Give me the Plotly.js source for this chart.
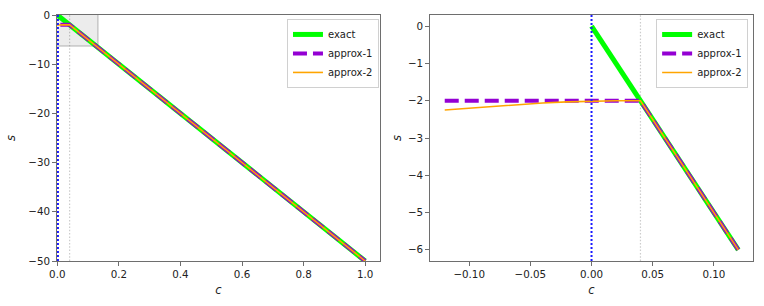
<!DOCTYPE html>
<html>
<head>
<meta charset="utf-8">
<script src="https://cdn.plot.ly/plotly-3.0.1.min.js"></script>
<style>html,body{margin:0;padding:0;background:#fff;}#chart{width:764px;height:306px;}</style>
</head>
<body>
<div id="chart"></div>
<script>
// ---- data ----
const seriesNames = ["exact", "approx-1", "approx-2"];
const cExact = [0, 0.04, 0.12, 1.0];
const sExact = [0, -2, -6, -50];
const cApprox = [-0.12, -0.10, -0.08, -0.06, -0.04, -0.02, 0.0, 0.02, 0.04, 0.12, 1.0];
const sApprox1 = [-2.0, -2.0, -2.0, -2.0, -2.0, -2.0, -2.0, -2.0, -2.0, -6.0, -50.0];
const sApprox2 = [-2.25, -2.20, -2.15, -2.10, -2.06, -2.03, -2.01, -2.00, -2.00, -6.0, -50.0];
const zoomMaxC = 0.12;               // right panel shows data up to this c
const splitC = 0.04;                 // grey dotted reference line
const leftXTicks = [0, 0.2, 0.4, 0.6, 0.8, 1.0];
const leftYTicks = [0, -10, -20, -30, -40, -50];
const rightXTicks = [-0.10, -0.05, 0.0, 0.05, 0.10];
const rightYTicks = [0, -1, -2, -3, -4, -5, -6];

function upTo(xs, ys, xmax) {
  const X = [], Y = [];
  for (let i = 0; i < xs.length; i++) if (xs[i] <= xmax + 1e-12) { X.push(xs[i]); Y.push(ys[i]); }
  return [X, Y];
}

const styles = [
  {color: "#00ff00", width: 5, dash: "solid"},
  {color: "#9400d3", width: 4, dash: "14px,6px"},
  {color: "#ffa500", width: 1.6, dash: "solid"}
];
const sets = [[cExact, sExact], [cApprox, sApprox1], [cApprox, sApprox2]];

const traces = [];
sets.forEach((d, i) => {
  traces.push({x: d[0], y: d[1], type: "scatter", mode: "lines", name: seriesNames[i],
    line: styles[i], xaxis: "x", yaxis: "y", legend: "legend"});
});
sets.forEach((d, i) => {
  const [X, Y] = upTo(d[0], d[1], zoomMaxC);
  traces.push({x: X, y: Y, type: "scatter", mode: "lines", name: seriesNames[i],
    line: styles[i], xaxis: "x2", yaxis: "y2", legend: "legend2"});
});

const font = {family: "DejaVu Sans, sans-serif", size: 10.3, color: "#222"};
const axisCommon = {
  showgrid: false, zeroline: false, showline: true, mirror: true,
  linecolor: "#6e6e6e", linewidth: 1.4, ticks: "outside", ticklen: 3.5,
  tickcolor: "#6e6e6e", tickwidth: 1, tickfont: font, automargin: false
};
const titleFont = {family: "DejaVu Sans, sans-serif", size: 11.5, color: "#222"};

const legendCommon = {
  bgcolor: "rgba(255,255,255,0.85)", bordercolor: "#d0d0d0", borderwidth: 1,
  font: {family: "DejaVu Sans, sans-serif", size: 10, color: "#222"},
  xanchor: "right", yanchor: "top", tracegroupgap: 0, itemwidth: 30
};

const blueDot = {color: "#1a1aff", width: 2, dash: "2px,2px"};
const greyDot = {color: "#cccccc", width: 1.2, dash: "1.5px,1.8px"};

const layout = {
  width: 764, height: 306,
  margin: {l: 57, r: 11, t: 15, b: 45},
  paper_bgcolor: "#fff", plot_bgcolor: "#fff",
  showlegend: true,
  xaxis: Object.assign({}, axisCommon, {domain: [0, 0.464], range: [-0.001, 1.048],
    tickvals: leftXTicks, tickformat: ".1f",
    title: {text: "<i>c</i>", font: titleFont, standoff: 6}, anchor: "y"}),
  yaxis: Object.assign({}, axisCommon, {range: [-50, 0], tickvals: leftYTicks,
    title: {text: "<i>s</i>", font: titleFont, standoff: 10}, anchor: "x"}),
  xaxis2: Object.assign({}, axisCommon, {domain: [0.536, 1], range: [-0.132, 0.132],
    tickvals: rightXTicks, tickformat: ".2f",
    title: {text: "<i>c</i>", font: titleFont, standoff: 6}, anchor: "y2"}),
  yaxis2: Object.assign({}, axisCommon, {range: [-6.3, 0.3], tickvals: rightYTicks,
    title: {text: "<i>s</i>", font: titleFont, standoff: 4}, anchor: "x2"}),
  legend: Object.assign({}, legendCommon, {x: 0.4626, y: 0.984}),
  legend2: Object.assign({}, legendCommon, {x: 0.993, y: 0.984}),
  shapes: [
    {type: "rect", xref: "x", yref: "y", x0: -0.132, x1: 0.132, y0: -6.3, y1: 0.3,
      fillcolor: "rgba(0,0,0,0.075)", line: {color: "#a0a0a0", width: 0.8}, layer: "below"},
    {type: "line", xref: "x", yref: "y domain", x0: 0.002, x1: 0.002, y0: 0, y1: 1,
      line: blueDot, layer: "above"},
    {type: "line", xref: "x", yref: "y domain", x0: splitC, x1: splitC, y0: 0, y1: 1,
      line: greyDot, layer: "below"},
    {type: "line", xref: "x2", yref: "y2 domain", x0: 0, x1: 0, y0: 0, y1: 1,
      line: blueDot, layer: "above"},
    {type: "line", xref: "x2", yref: "y2 domain", x0: splitC, x1: splitC, y0: 0, y1: 1,
      line: greyDot, layer: "below"}
  ]
};

Plotly.newPlot("chart", traces, layout, {displayModeBar: false, staticPlot: true});
</script>
</body>
</html>
